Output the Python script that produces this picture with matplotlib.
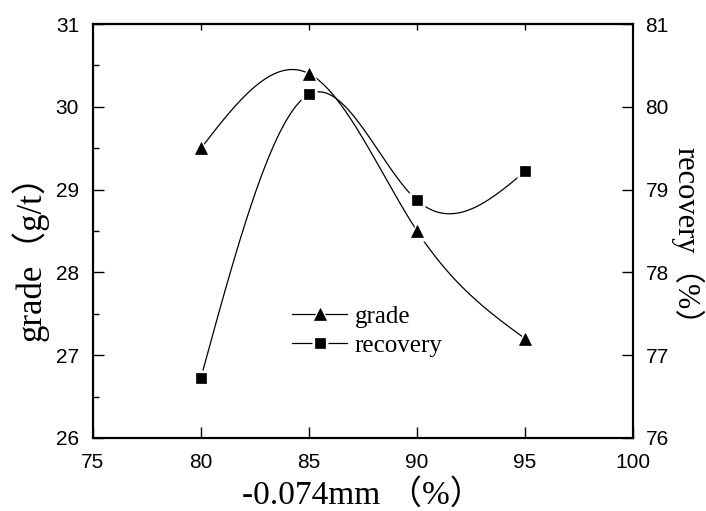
import numpy as np
import matplotlib
matplotlib.use("Agg")
import matplotlib.pyplot as plt
from matplotlib.lines import Line2D
from matplotlib.legend_handler import HandlerTuple

# ---- data ----
fineness = [80, 85, 90, 95]
grade = [29.5, 30.4, 28.5, 27.2]
recovery = [76.73, 80.15, 78.87, 79.22]

x_ticks = [75, 80, 85, 90, 95, 100]
grade_ticks = [26, 27, 28, 29, 30, 31]
recovery_ticks = [76, 77, 78, 79, 80, 81]

xlabel = "-0.074mm （%）"
ylabel_left = "grade（g/t）"
ylabel_right = "recovery（%）"


def natural_spline(x, y, n=300):
    x = np.asarray(x, float)
    y = np.asarray(y, float)
    k = len(x)
    h = np.diff(x)
    A = np.zeros((k, k))
    b = np.zeros(k)
    A[0, 0] = 1
    A[-1, -1] = 1
    for i in range(1, k - 1):
        A[i, i - 1] = h[i - 1] / 6
        A[i, i] = (h[i - 1] + h[i]) / 3
        A[i, i + 1] = h[i] / 6
        b[i] = (y[i + 1] - y[i]) / h[i] - (y[i] - y[i - 1]) / h[i - 1]
    M = np.linalg.solve(A, b)
    xs = np.linspace(x[0], x[-1], n)
    ys = np.empty_like(xs)
    for j, xv in enumerate(xs):
        i = min(np.searchsorted(x, xv, side="right") - 1, k - 2)
        t1 = x[i + 1] - xv
        t0 = xv - x[i]
        hi = h[i]
        ys[j] = (M[i] * t1 ** 3 / (6 * hi) + M[i + 1] * t0 ** 3 / (6 * hi)
                 + (y[i] / hi - M[i] * hi / 6) * t1
                 + (y[i + 1] / hi - M[i + 1] * hi / 6) * t0)
    return xs, ys


serif = ["Liberation Serif", "Noto Sans CJK SC"]
plt.rcParams["font.family"] = ["Liberation Sans", "DejaVu Sans"]

fig = plt.figure(figsize=(7.06, 5.11), dpi=100)
ax = fig.add_axes([0.1317, 0.1429, 0.765, 0.8101])
ax2 = ax.twinx()

ax.set_xlim(75, 100)
ax.set_ylim(26, 31)
ax2.set_ylim(76, 81)

lw = 0.9
xs, ys = natural_spline(fineness, grade)
ax.plot(xs, ys, color="black", lw=lw, zorder=2)
g_gap = ax.plot(fineness, grade, ls="none", marker="^", ms=14, mfc="white", mec="none", zorder=3)[0]
g_mk = ax.plot(fineness, grade, ls="none", marker="^", ms=8.5, mfc="black", mec="black", mew=0.5, zorder=4)[0]

xs2, ys2 = natural_spline(fineness, recovery)
ax2.plot(xs2, ys2, color="black", lw=lw, zorder=2)
r_gap = ax2.plot(fineness, recovery, ls="none", marker="s", ms=11.5, mfc="white", mec="none", zorder=3)[0]
r_mk = ax2.plot(fineness, recovery, ls="none", marker="s", ms=7, mfc="black", mec="black", mew=0.5, zorder=4)[0]

# ticks
ax.set_xticks(x_ticks)
ax.set_yticks(grade_ticks)
ax.set_yticks(np.arange(26.5, 31, 1.0), minor=True)
ax2.set_yticks(recovery_ticks)
ax.tick_params(axis="both", which="major", direction="in", length=8, width=1,
               labelsize=15, pad=10)
ax.tick_params(axis="y", which="minor", direction="in", length=4, width=1)
ax.tick_params(axis="x", which="major", pad=11)
ax2.tick_params(axis="y", which="major", direction="in", length=8, width=1,
                labelsize=15, pad=9)

top = ax.secondary_xaxis("top")
top.set_xticks(fineness)
top.tick_params(direction="in", length=4, width=1, labeltop=False)

for a in (ax, ax2):
    for s in a.spines.values():
        s.set_linewidth(1.5)
top.spines["top"].set_linewidth(1.5)

# labels
ax.set_xlabel(xlabel, fontsize=24, family=serif, va="center")
ax.xaxis.set_label_coords(0.5, -0.138)
ax.set_ylabel(ylabel_left, fontsize=25, family=serif, va="center")
ax.yaxis.set_label_coords(-0.117, 0.456)
ax2.set_ylabel(ylabel_right, fontsize=22, family=serif, rotation=-90, va="center")
ax2.yaxis.set_label_coords(1.10, 0.47)

# legend
line_h = Line2D([], [], color="black", lw=lw)
handles = [(line_h, g_gap, g_mk), (line_h, r_gap, r_mk)]
leg = ax.legend(handles, ["grade", "recovery"],
                handler_map={tuple: HandlerTuple(ndivide=1, pad=0)},
                loc="upper left", bbox_to_anchor=(0.35, 0.345),
                frameon=False, prop={"family": serif, "size": 18},
                handlelength=2.2, handletextpad=0.3, labelspacing=0.28,
                borderaxespad=0)

fig.savefig("out.png", dpi=100)
